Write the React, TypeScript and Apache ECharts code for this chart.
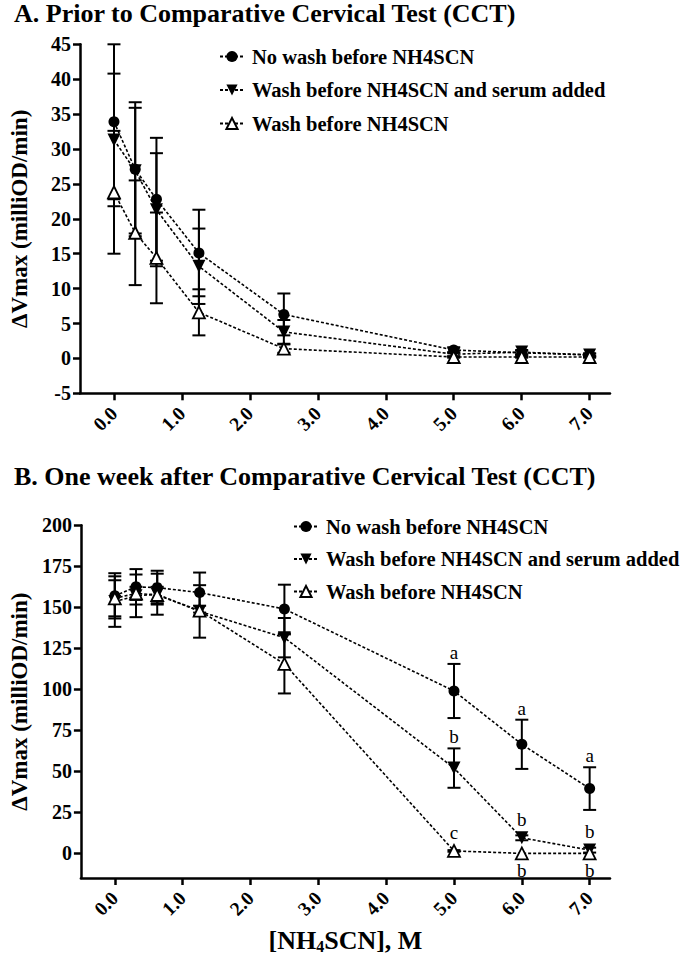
import React, { useEffect, useRef } from "react";
import * as echarts from "echarts";

// ---------- data ----------
const concentrations = [0, 0.3125, 0.625, 1.25, 2.5, 5, 6, 7];
const seriesNames = [
  "No wash before NH4SCN",
  "Wash before NH4SCN and serum added",
  "Wash before NH4SCN",
];
const xTickValues = [0, 1, 2, 3, 4, 5, 6, 7];
const yTicksB = [0, 25, 50, 75, 100, 125, 150, 175, 200];

// Panel A: prior to CCT
const noWashA = [33.9, 27.1, 22.8, 15.1, 6.3, 1.2, 0.8, 0.5];
const noWashAErr = [11.1, 9.6, 8.8, 6.2, 3.0, 0.4, 0.3, 0.2];
const serumA = [31.3, 26.9, 21.3, 13.2, 3.8, 0.6, 0.9, 0.5];
const serumAErr = [9.5, 9.0, 8.1, 5.4, 1.7, 0.3, 0.3, 0.2];
const washA = [23.8, 18.0, 14.4, 6.6, 1.4, 0.2, 0.2, 0.2];
const washAErr = [8.8, 7.5, 6.5, 3.3, 0.6, 0.1, 0.1, 0.1];

// Panel B: one week after CCT
const noWashB = [157, 162.5, 162, 159, 149, 99, 66.5, 39.5];
const noWashBErr = [13.8, 10.8, 10.3, 12.2, 14.8, 16.5, 15, 13];
const serumB = [153.5, 157, 158, 147.5, 131.5, 52, 9.5, 2];
const serumBErr = [15.4, 13, 12.5, 16, 12, 12, 1.5, 1.5];
const washB = [155.5, 158.5, 157.5, 148, 115.5, 1.5, 0, 0];
const washBErr = [11, 4, 5, 3, 18, 0.5, 0, 0];

// Significance letters (panel B)
const noWashBLetters = ["", "", "", "", "", "a", "a", "a"];
const serumBLetters = ["", "", "", "", "", "b", "b", "b"];
const washBLetters = ["", "", "", "", "", "c", "b", "b"];
const washBLetterBelow = [false, false, false, false, false, false, true, true];

// ---------- styles ----------
const serif = "Liberation Serif";
const downTri = "path://M0,0 L12,0 L6,11 Z";

const markers = [
  { symbol: "circle", size: 11, itemStyle: { color: "#000" } },
  { symbol: downTri, size: 13, itemStyle: { color: "#000" } },
  {
    symbol: "triangle",
    size: 12,
    itemStyle: { color: "#fff", borderColor: "#000", borderWidth: 1.8 },
  },
];

function errRender(params: any, api: any) {
  const x = api.value(0);
  const y = api.value(1);
  const e = api.value(2);
  if (!e) return { type: "group", children: [] };
  const p = api.coord([x, y]);
  const top = api.coord([x, y + e]);
  const bot = api.coord([x, y - e]);
  const hw = 6.5;
  const style = { stroke: "#000", lineWidth: 2 };
  return {
    type: "group",
    children: [
      { type: "line", shape: { x1: p[0], y1: top[1], x2: p[0], y2: bot[1] }, style },
      { type: "line", shape: { x1: p[0] - hw, y1: top[1], x2: p[0] + hw, y2: top[1] }, style },
      { type: "line", shape: { x1: p[0] - hw, y1: bot[1], x2: p[0] + hw, y2: bot[1] }, style },
    ],
  };
}

function letterRenderFactory(letters: string[], below: boolean[] | null) {
  return (params: any, api: any) => {
    const i = params.dataIndex;
    const txt = letters[i];
    if (!txt) return { type: "group", children: [] };
    const x = api.value(0);
    const y = api.value(1);
    const e = api.value(2);
    const p = api.coord([x, y]);
    const isBelow = below ? below[i] : false;
    const style: any = {
      text: txt,
      fill: "#000",
      fontFamily: serif,
      fontSize: 19,
      align: "center",
    };
    if (!isBelow) {
      const top = api.coord([x, y + e]);
      return {
        type: "text",
        x: p[0],
        y: Math.min(top[1], p[1] - 7) - 2,
        style: { ...style, verticalAlign: "bottom" },
      };
    }
    const bot = api.coord([x, y - e]);
    return {
      type: "text",
      x: p[0],
      y: Math.max(bot[1], p[1] + 7) + 1,
      style: { ...style, verticalAlign: "top" },
    };
  };
}

function buildSeries(
  gridIdx: number,
  vals: number[][],
  errs: number[][],
  letters: (string[] | null)[],
  below: (boolean[] | null)[]
) {
  const out: any[] = [];
  vals.forEach((v, k) => {
    out.push({
      type: "custom",
      xAxisIndex: gridIdx,
      yAxisIndex: gridIdx,
      renderItem: errRender,
      data: concentrations.map((x, i) => [x, v[i], errs[k][i]]),
      z: 2,
      silent: true,
    });
  });
  vals.forEach((v, k) => {
    out.push({
      type: "line",
      name: seriesNames[k],
      xAxisIndex: gridIdx,
      yAxisIndex: gridIdx,
      data: concentrations.map((x, i) => [x, v[i]]),
      symbol: markers[k].symbol,
      symbolSize: markers[k].size,
      showAllSymbol: true,
      itemStyle: markers[k].itemStyle,
      lineStyle: { color: "#000", width: 1.6, type: [3, 2] },
      z: 5 + k,
    });
  });
  letters.forEach((L, k) => {
    if (!L) return;
    out.push({
      type: "custom",
      xAxisIndex: gridIdx,
      yAxisIndex: gridIdx,
      renderItem: letterRenderFactory(L, below[k]),
      data: concentrations.map((x, i) => [x, vals[k][i], errs[k][i]]),
      z: 10,
      silent: true,
    });
  });
  return out;
}

const axisLineStyle = { color: "#000", width: 2.5 };
const boldText = { fontFamily: serif, fontWeight: "bold", color: "#000" };

function xAxis(gridIndex: number, withName: boolean) {
  const ax: any = {
    type: "value",
    gridIndex,
    min: -0.5,
    max: 7.3,
    axisLine: { show: true, onZero: false, lineStyle: axisLineStyle },
    axisTick: { show: true, length: 7, lineStyle: { width: 2.5, color: "#000" }, customValues: xTickValues },
    axisLabel: {
      ...boldText,
      fontSize: 19.5,
      rotate: 45,
      margin: 17,
      customValues: xTickValues,
      formatter: (v: number) => v.toFixed(1),
    },
    splitLine: { show: false },
  };
  if (withName) {
    ax.name = "{a|[NH}{s|4}{a|SCN], M}";
    ax.nameLocation = "middle";
    ax.nameGap = 48;
    ax.nameTextStyle = {
      rich: {
        a: { ...boldText, fontSize: 26 },
        s: { ...boldText, fontSize: 16, padding: [12, 0, 0, 0] },
      },
    };
  }
  return ax;
}

const yName = "ΔVmax (milliOD/min)";
const yNameStyle = { ...boldText, fontSize: 23 };

export default function App() {
  const ref = useRef<HTMLDivElement>(null);
  useEffect(() => {
    if (!ref.current) return;
    const chart = echarts.init(ref.current, undefined, { renderer: "svg" });
    const legendCommon = {
      data: seriesNames,
      orient: "vertical",
      itemWidth: 24,
      itemHeight: 14,
      selectedMode: false,
      textStyle: {
        ...boldText,
        fontSize: 20.5,
        lineHeight: 21,
        padding: [0, 0, 0, 3],
      },
    };
    const option: any = {
      animation: false,
      backgroundColor: "#fff",
      title: [
        {
          text: "A. Prior to Comparative Cervical Test (CCT)",
          left: 14,
          top: 0,
          padding: 0,
          textStyle: { ...boldText, fontSize: 26 },
        },
        {
          text: "B. One week after Comparative Cervical Test (CCT)",
          left: 14,
          top: 463,
          padding: 0,
          textStyle: { ...boldText, fontSize: 26 },
        },
      ],
      legend: [
        { ...legendCommon, left: 214, top: 41, itemGap: 12.5 },
        { ...legendCommon, left: 288, top: 511, itemGap: 11.5 },
      ],
      grid: [
        { left: 72, top: 44.3, width: 538, height: 349 },
        { left: 72, top: 525.3, width: 538, height: 354 },
      ],
      xAxis: [xAxis(0, false), xAxis(1, true)],
      yAxis: [
        {
          type: "value",
          gridIndex: 0,
          min: -5,
          max: 45,
          interval: 5,
          axisLine: { show: true, onZero: false, lineStyle: axisLineStyle },
          axisTick: { show: true, length: 7, lineStyle: { width: 2.5, color: "#000" } },
          axisLabel: { ...boldText, fontSize: 20, margin: 9 },
          splitLine: { show: false },
          name: yName,
          nameLocation: "middle",
          nameGap: 49,
          nameTextStyle: yNameStyle,
        },
        {
          type: "value",
          gridIndex: 1,
          min: -15,
          max: 200,
          axisLine: { show: true, onZero: false, lineStyle: axisLineStyle },
          axisTick: {
            show: true,
            length: 7,
            lineStyle: { width: 2.5, color: "#000" },
            customValues: yTicksB,
          },
          axisLabel: { ...boldText, fontSize: 20, margin: 9, customValues: yTicksB },
          splitLine: { show: false },
          name: yName,
          nameLocation: "middle",
          nameGap: 49,
          nameTextStyle: yNameStyle,
        },
      ],
      series: [
        ...buildSeries(
          0,
          [noWashA, serumA, washA],
          [noWashAErr, serumAErr, washAErr],
          [null, null, null],
          [null, null, null]
        ),
        ...buildSeries(
          1,
          [noWashB, serumB, washB],
          [noWashBErr, serumBErr, washBErr],
          [noWashBLetters, serumBLetters, washBLetters],
          [null, null, washBLetterBelow]
        ),
      ],
    };
    chart.setOption(option);
    return () => chart.dispose();
  }, []);
  return (
    <div
      ref={ref}
      style={{ position: "absolute", left: 0, top: 0, width: 680, height: 955, background: "#fff" }}
    />
  );
}
